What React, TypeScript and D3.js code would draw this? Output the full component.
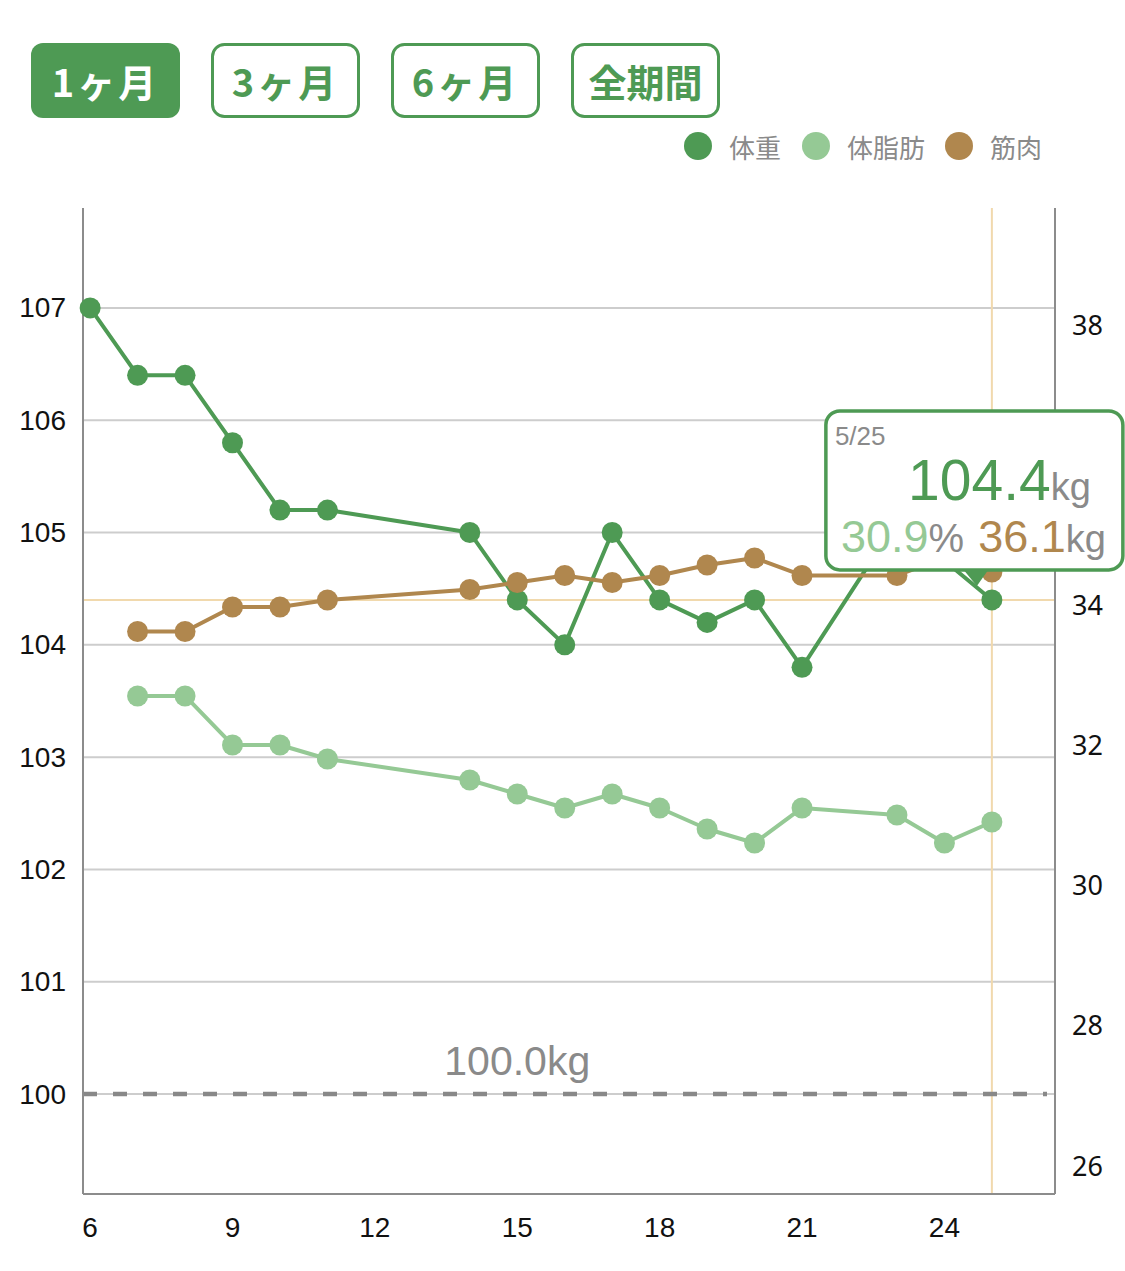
import React from "react";
import * as d3 from "d3";

// May, days of month
const days = [6, 7, 8, 9, 10, 11, 14, 15, 16, 17, 18, 19, 20, 21, 23, 24, 25];
// 体重 (kg, left axis)
const weightKg = [107.0, 106.4, 106.4, 105.8, 105.2, 105.2, 105.0, 104.4, 104.0, 105.0, 104.4, 104.2, 104.4, 103.8, 105.1, null, 104.4];
// 体脂肪 (%, right axis)
const bodyFatPct = [null, 32.7, 32.7, 32.0, 32.0, 31.8, 31.5, 31.3, 31.1, 31.3, 31.1, 30.8, 30.6, 31.1, 31.0, 30.6, 30.9];
// 筋肉 (kg, hidden axis)
const muscleKg = [null, 35.25, 35.25, 35.6, 35.6, 35.7, 35.85, 35.95, 36.05, 35.95, 36.05, 36.2, 36.3, 36.05, 36.05, 36.3, 36.1];

const xTicks = [6, 9, 12, 15, 18, 21, 24];
const leftTicks = [100, 101, 102, 103, 104, 105, 106, 107];
// 36 sits under the tooltip, so it is not shown
const rightTicks = [26, 28, 30, 32, 34, 38];
const periods = ["1ヶ月", "3ヶ月", "6ヶ月", "全期間"];
const legendItems = ["体重", "体脂肪", "筋肉"];
const goalKg = 100.0;
const selectedDay = 25;

const GREEN = "#4e9a54";
const LIGHT = "#95c995";
const BROWN = "#b0874e";
const GRAY_TEXT = "#8a8a8a";
const JP = "'Noto Sans CJK JP', 'Noto Sans', sans-serif";
const NUM = "'Liberation Sans', Arial, sans-serif";

type Pt = { day: number; v: number };

const toPoints = (vals: (number | null)[]): Pt[] =>
  days.map((day, i) => ({ day, v: vals[i] as number })).filter((d) => d.v != null);

export default function App() {
  const width = 1125;
  const height = 1271;
  const left = 83, right = 1055, top = 208, bottom = 1194;

  const x = d3.scaleLinear().domain([5.85, 26.33]).range([left, right]);
  const yW = d3.scaleLinear().domain([99.11, 107.89]).range([bottom, top]);
  const yF = d3.scaleLinear().domain([25.586, 39.67]).range([bottom, top]);
  const yM = d3.scaleLinear().domain([27.214, 41.3]).range([bottom, top]);

  const series = [
    { pts: toPoints(weightKg), y: yW, color: GREEN },
    { pts: toPoints(bodyFatPct), y: yF, color: LIGHT },
    { pts: toPoints(muscleKg), y: yM, color: BROWN },
  ];

  const selIdx = days.indexOf(selectedDay);
  const selW = weightKg[selIdx] as number;
  const selF = bodyFatPct[selIdx] as number;
  const selM = muscleKg[selIdx] as number;
  const sx = x(selectedDay);
  const sy = yW(selW);

  // tooltip box placed above-left of the selected point
  const tipX = sx - 166, tipY = sy - 189, tipW = 297, tipH = 159;

  const legendColors = [GREEN, LIGHT, BROWN];
  const legendX = [698, 816, 959];

  return (
    <svg
      width={width}
      height={height}
      style={{ position: "absolute", left: 0, top: 0, background: "#fff" }}
    >
      <rect width={width} height={height} fill="#fff" />

      {/* period buttons */}
      {periods.map((p, i) => {
        const bx = 31 + i * 180;
        const active = i === 0;
        return (
          <g key={p}>
            <rect
              x={active ? bx : bx + 1.5}
              y={active ? 43 : 44.5}
              width={active ? 149 : 146}
              height={active ? 75 : 72}
              rx={12}
              fill={active ? GREEN : "#fff"}
              stroke={active ? "none" : GREEN}
              strokeWidth={3}
            />
            <text
              x={bx + 74.5}
              y={80}
              textAnchor="middle"
              dominantBaseline="central"
              fontFamily={JP}
              fontWeight={700}
              fontSize={38}
              letterSpacing={p === "全期間" ? 0 : 3}
              fill={active ? "#fff" : GREEN}
            >
              {p}
            </text>
          </g>
        );
      })}

      {/* legend */}
      {legendItems.map((t, i) => (
        <g key={t}>
          <circle cx={legendX[i]} cy={146} r={14} fill={legendColors[i]} />
          <text
            x={legendX[i] + 31}
            y={146}
            dominantBaseline="central"
            fontFamily={JP}
            fontSize={26}
            fill={GRAY_TEXT}
          >
            {t}
          </text>
        </g>
      ))}

      {/* grid */}
      {leftTicks.filter((t) => t !== goalKg).map((t) => (
        <line key={t} x1={left} x2={right} y1={yW(t)} y2={yW(t)} stroke="#cdcdcd" strokeWidth={2} />
      ))}

      {/* selection crosshair */}
      <line x1={left} x2={right} y1={sy} y2={sy} stroke="#f1d9ad" strokeWidth={2} />
      <line x1={sx} x2={sx} y1={top} y2={bottom} stroke="#f1d9ad" strokeWidth={2} />

      {/* goal line */}
      <line x1={left} x2={right} y1={yW(goalKg)} y2={yW(goalKg)} stroke="#cdcdcd" strokeWidth={2} />
      <line
        x1={left}
        x2={right - 8}
        y1={yW(goalKg)}
        y2={yW(goalKg)}
        stroke="#888"
        strokeWidth={4.5}
        strokeDasharray="14 16"
      />
      <text
        x={x(15)}
        y={yW(goalKg) - 19}
        textAnchor="middle"
        fontFamily={NUM}
        fontSize={41}
        fill={GRAY_TEXT}
      >
        {goalKg.toFixed(1) + "kg"}
      </text>

      {/* axes */}
      <line x1={left} x2={left} y1={top} y2={bottom} stroke="#8c8c8c" strokeWidth={2} />
      <line x1={right} x2={right} y1={top} y2={bottom} stroke="#8c8c8c" strokeWidth={2} />
      <line x1={left} x2={right} y1={bottom} y2={bottom} stroke="#8c8c8c" strokeWidth={2} />

      {leftTicks.map((t) => (
        <text key={t} x={66} y={yW(t)} textAnchor="end" dominantBaseline="central" fontFamily={NUM} fontSize={28} fill="#111">
          {t}
        </text>
      ))}
      {rightTicks.map((t) => (
        <text key={t} x={1072} y={yF(t)} dominantBaseline="central" fontFamily="'Noto Sans', sans-serif" fontSize={27} fill="#111">
          {t}
        </text>
      ))}
      {xTicks.map((t) => (
        <text key={t} x={x(t)} y={1227} textAnchor="middle" dominantBaseline="central" fontFamily={NUM} fontSize={28} fill="#111">
          {t}
        </text>
      ))}

      {/* series */}
      {series.map((s, i) => {
        const line = d3.line<Pt>().x((d) => x(d.day)).y((d) => s.y(d.v));
        return (
          <g key={i}>
            <path d={line(s.pts) || ""} fill="none" stroke={s.color} strokeWidth={4} strokeLinejoin="round" />
            {s.pts.map((d) => (
              <circle key={d.day} cx={x(d.day)} cy={s.y(d.v)} r={10.5} fill={s.color} />
            ))}
          </g>
        );
      })}

      {/* tooltip */}
      <g>
        <rect x={tipX} y={tipY} width={tipW} height={tipH} rx={14} fill="#fff" stroke={GREEN} strokeWidth={3.5} />
        <path
          d={`M${sx - 29},${tipY + tipH - 1} L${sx - 3},${tipY + tipH - 1} L${sx - 15},${tipY + tipH + 16} Z`}
          fill={GREEN}
        />
        <text x={tipX + 9} y={tipY + 34} fontFamily={NUM} fontSize={26} fill={GRAY_TEXT}>
          {`5/${selectedDay}`}
        </text>
        <text x={tipX + 265} y={tipY + 89} textAnchor="end" fontFamily={NUM}>
          <tspan fontSize={57} fill={GREEN}>{selW.toFixed(1)}</tspan>
          <tspan fontSize={38} fill={GRAY_TEXT}>kg</tspan>
        </text>
        <text x={tipX + 280} y={tipY + 141} textAnchor="end" fontFamily={NUM}>
          <tspan fontSize={45} fill={LIGHT}>{selF.toFixed(1)}</tspan>
          <tspan fontSize={40} fill={GRAY_TEXT}>%</tspan>
          <tspan fontSize={45} fill={BROWN} dx={14}>{selM.toFixed(1)}</tspan>
          <tspan fontSize={38} fill={GRAY_TEXT}>kg</tspan>
        </text>
      </g>
    </svg>
  );
}
